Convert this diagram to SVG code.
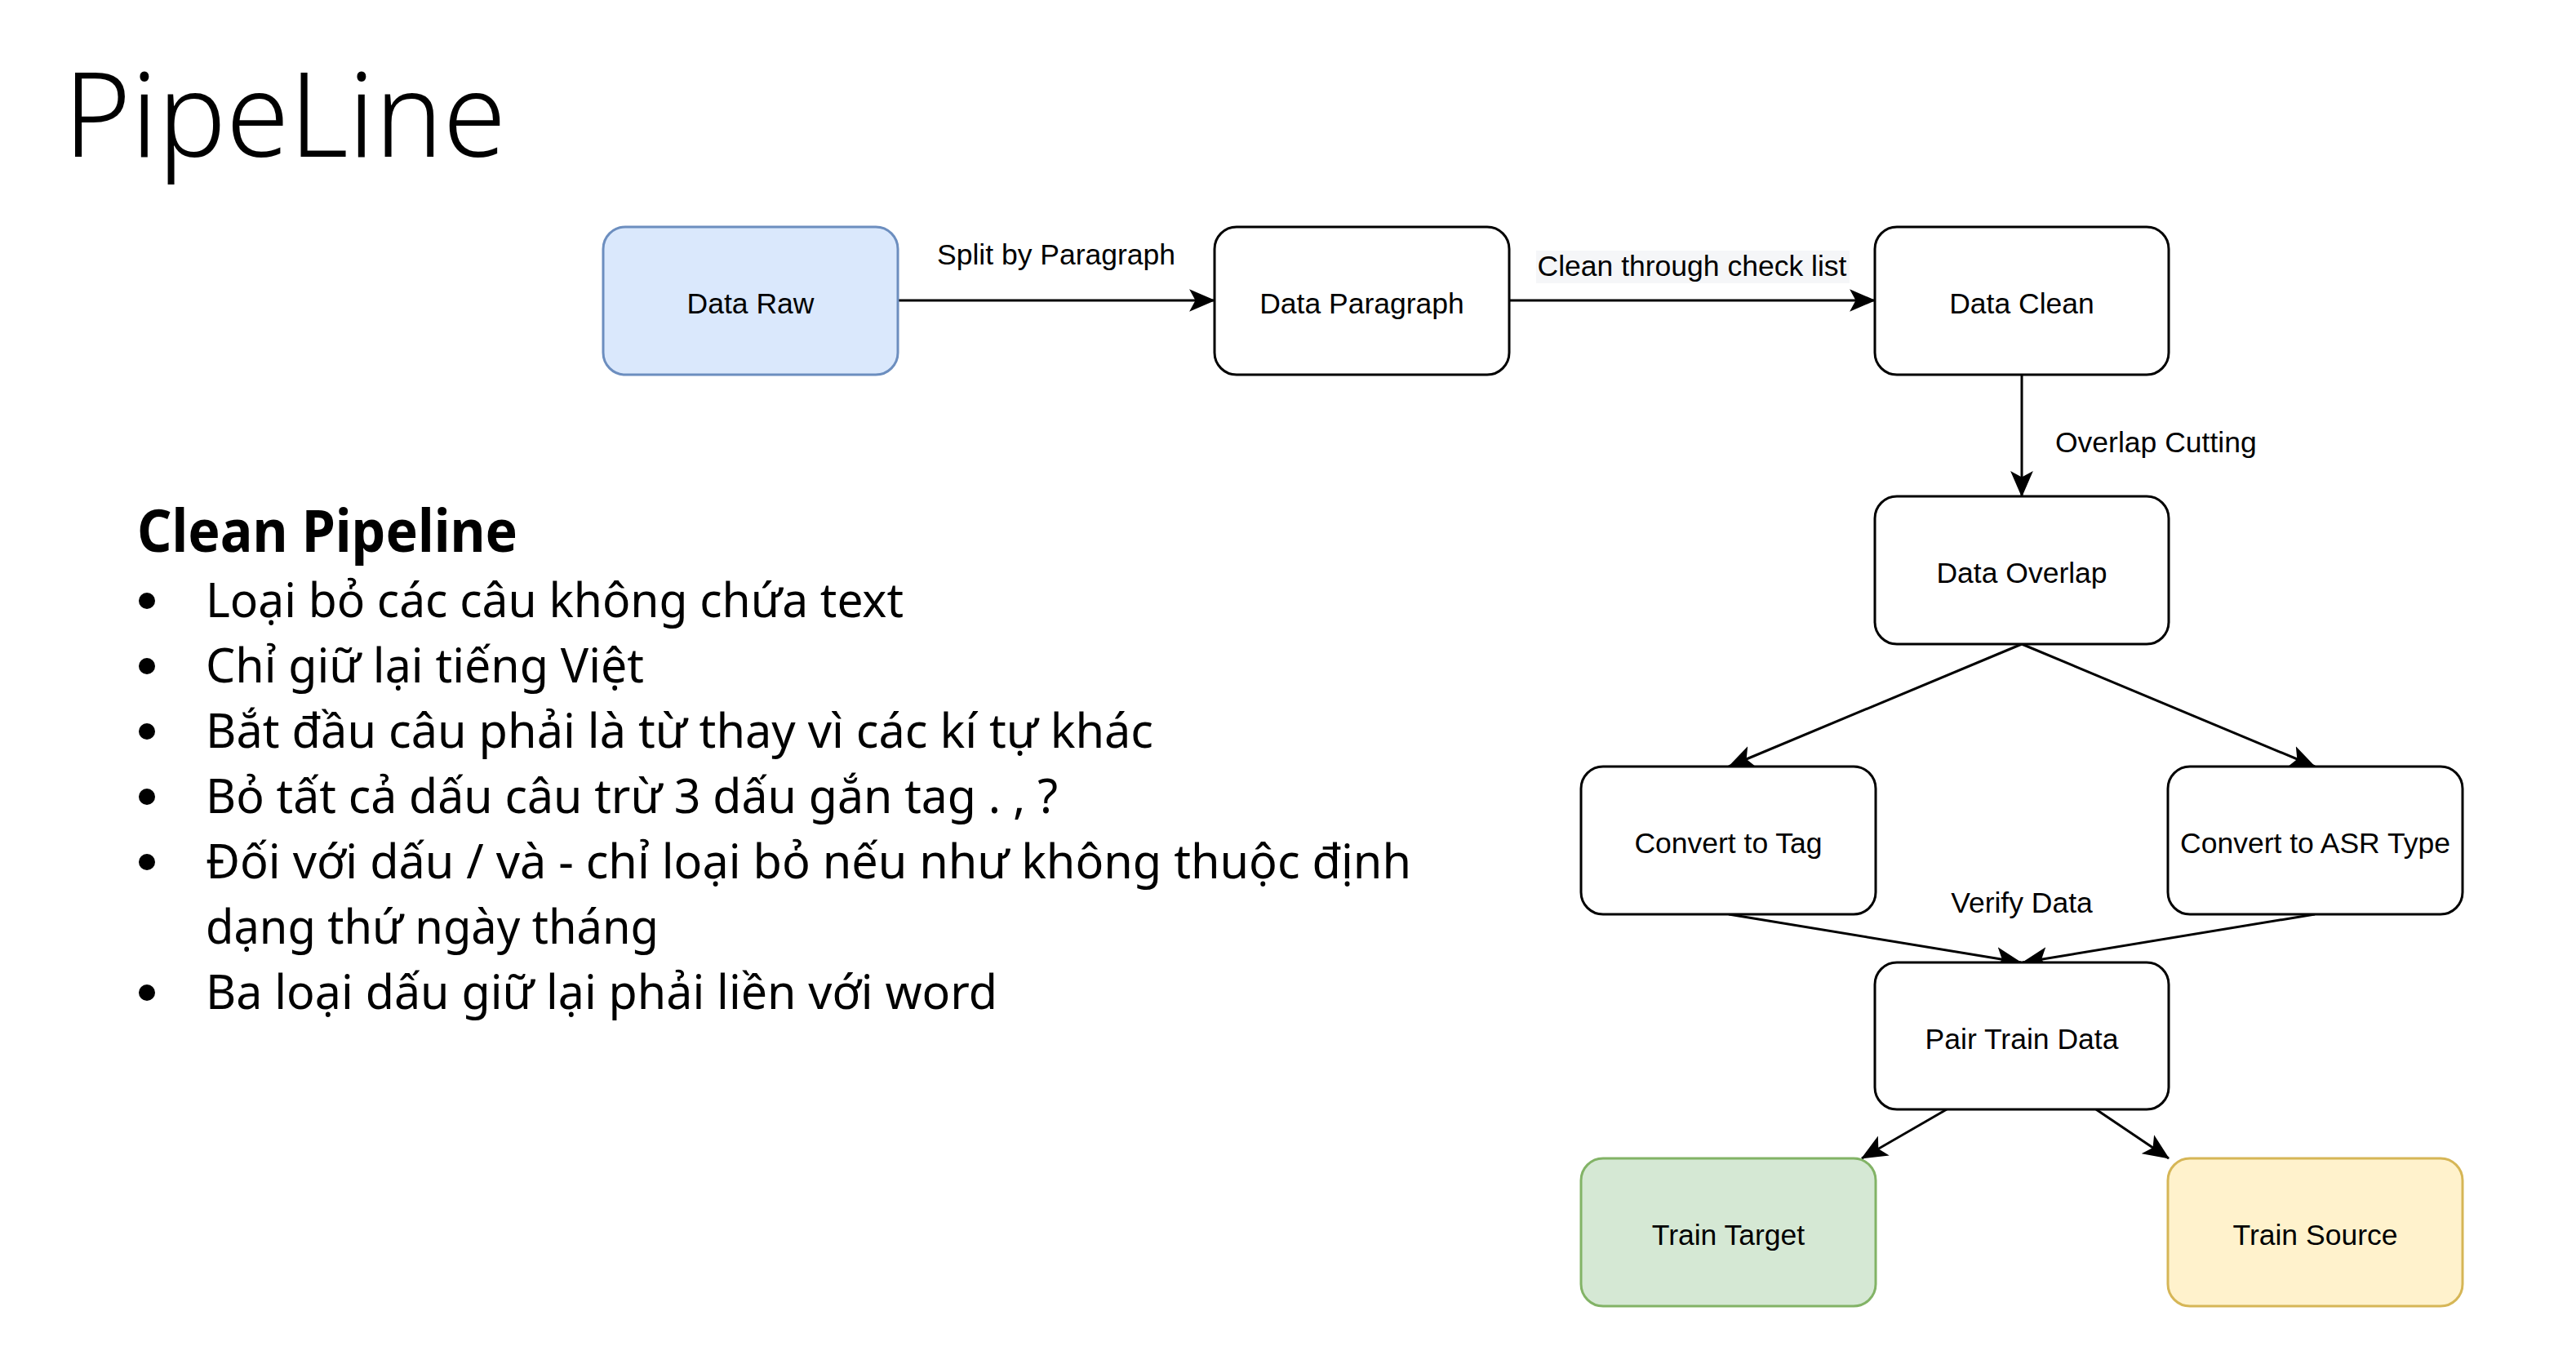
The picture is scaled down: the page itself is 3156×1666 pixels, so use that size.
<svg xmlns="http://www.w3.org/2000/svg" width="3156" height="1666" viewBox="0 0 3156 1666">
  <style>
    .node { fill: #ffffff; stroke: #000000; stroke-width: 3; }
    .blue { fill: #dae8fc; stroke: #6c8ebf; }
    .green { fill: #d5e8d4; stroke: #82b366; }
    .yellow { fill: #fff2cc; stroke: #d6b656; }
    .ntext { font-family: "Liberation Sans", Arial, Helvetica, sans-serif; font-size: 35.5px; fill: #000000; text-anchor: middle; }
    .elabel { font-family: "Liberation Sans", Arial, Helvetica, sans-serif; font-size: 35.5px; fill: #000000; }
    .edge { fill: none; stroke: #000000; stroke-width: 3; marker-end: url(#arrow); }
    .slide { font-family: "Noto Sans", "Open Sans", sans-serif; fill: #000000; }
    .bullet { font-size: 59px; }
    .dot { fill: #000000; }
  </style>
  <defs>
    <marker id="arrow" markerUnits="userSpaceOnUse" markerWidth="32" markerHeight="28" viewBox="0 0 30 26" refX="29" refY="13" orient="auto">
      <path d="M0,0 L30,13 L0,26 L7,13 Z" fill="#000000"/>
    </marker>
  </defs>
  <rect width="3156" height="1666" fill="#ffffff"/>

  <g id="title">
    <text class="slide" x="78" y="192" font-size="144" font-weight="300" textLength="542" lengthAdjust="spacingAndGlyphs">PipeLine</text>
  </g>

  <g id="clean-pipeline-text" class="slide">
    <text x="168" y="676" font-size="72" font-weight="bold" textLength="466" lengthAdjust="spacingAndGlyphs">Clean Pipeline</text>
    <g class="bullet">
      <circle class="dot" cx="180" cy="736" r="10"/>
      <text x="252" y="756" textLength="855" lengthAdjust="spacingAndGlyphs">Loại bỏ các câu không chứa text</text>
      <circle class="dot" cx="180" cy="816" r="10"/>
      <text x="252" y="836" textLength="537" lengthAdjust="spacingAndGlyphs">Chỉ giữ lại tiếng Việt</text>
      <circle class="dot" cx="180" cy="896" r="10"/>
      <text x="252" y="916" textLength="1161" lengthAdjust="spacingAndGlyphs">Bắt đầu câu phải là từ thay vì các kí tự khác</text>
      <circle class="dot" cx="180" cy="976" r="10"/>
      <text x="252" y="996" textLength="1044" lengthAdjust="spacingAndGlyphs">Bỏ tất cả dấu câu trừ 3 dấu gắn tag . , ?</text>
      <circle class="dot" cx="180" cy="1056" r="10"/>
      <text x="252" y="1076" textLength="1477" lengthAdjust="spacingAndGlyphs">Đối với dấu / và - chỉ loại bỏ nếu như không thuộc định</text>
      <text x="252" y="1156" textLength="555" lengthAdjust="spacingAndGlyphs">dạng thứ ngày tháng</text>
      <circle class="dot" cx="180" cy="1216" r="10"/>
      <text x="252" y="1236" textLength="970" lengthAdjust="spacingAndGlyphs">Ba loại dấu giữ lại phải liền với word</text>
    </g>
  </g>

  <g id="connectors">
    <path class="edge" d="M1100,368 L1488,368"/>
    <path class="edge" d="M1849,368 L2297,368"/>
    <path class="edge" d="M2477,459 L2477,608"/>
    <path class="edge" d="M2477,789 L2118,939"/>
    <path class="edge" d="M2477,789 L2836,939"/>
    <path class="edge" d="M2118,1120 L2476,1179"/>
    <path class="edge" d="M2836,1120 L2478,1179"/>
    <path class="edge" d="M2385,1359 L2281,1419"/>
    <path class="edge" d="M2568,1359 L2657,1419"/>
    <text class="elabel" x="1294" y="324" text-anchor="middle">Split by Paragraph</text>
    <rect x="1882" y="307" width="384" height="40" fill="#f5f6f8"/>
    <text class="elabel" x="2073" y="338" text-anchor="middle">Clean through check list</text>
    <text class="elabel" x="2518" y="554">Overlap Cutting</text>
    <text class="elabel" x="2477" y="1118" text-anchor="middle">Verify Data</text>
  </g>

  <g id="data-raw">
    <rect class="node blue" x="739" y="278" width="361" height="181" rx="27" ry="27"/>
    <text class="ntext" x="919.5" y="384">Data Raw</text>
  </g>
  <g id="data-paragraph">
    <rect class="node" x="1488" y="278" width="361" height="181" rx="27" ry="27"/>
    <text class="ntext" x="1668.5" y="384">Data Paragraph</text>
  </g>
  <g id="data-clean">
    <rect class="node" x="2297" y="278" width="360" height="181" rx="27" ry="27"/>
    <text class="ntext" x="2477" y="384">Data Clean</text>
  </g>
  <g id="data-overlap">
    <rect class="node" x="2297" y="608" width="360" height="181" rx="27" ry="27"/>
    <text class="ntext" x="2477" y="714">Data Overlap</text>
  </g>
  <g id="convert-to-tag">
    <rect class="node" x="1937" y="939" width="361" height="181" rx="27" ry="27"/>
    <text class="ntext" x="2117.5" y="1045">Convert to Tag</text>
  </g>
  <g id="convert-to-asr">
    <rect class="node" x="2656" y="939" width="361" height="181" rx="27" ry="27"/>
    <text class="ntext" x="2836.5" y="1045">Convert to ASR Type</text>
  </g>
  <g id="pair-train-data">
    <rect class="node" x="2297" y="1179" width="360" height="180" rx="27" ry="27"/>
    <text class="ntext" x="2477" y="1285">Pair Train Data</text>
  </g>
  <g id="train-target">
    <rect class="node green" x="1937" y="1419" width="361" height="181" rx="27" ry="27"/>
    <text class="ntext" x="2117.5" y="1525">Train Target</text>
  </g>
  <g id="train-source">
    <rect class="node yellow" x="2656" y="1419" width="361" height="181" rx="27" ry="27"/>
    <text class="ntext" x="2836.5" y="1525">Train Source</text>
  </g>
</svg>
